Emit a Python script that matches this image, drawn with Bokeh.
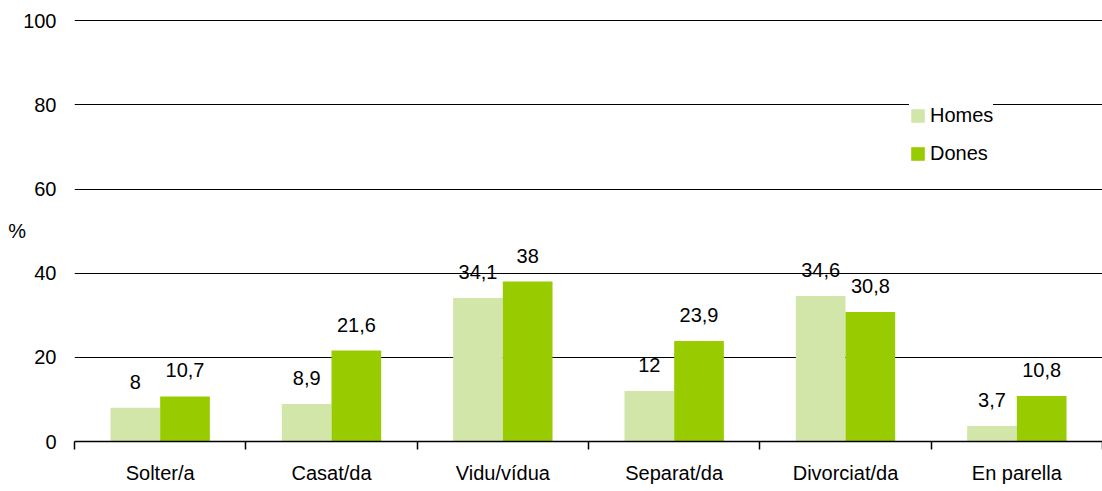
import numpy as np
from bokeh.plotting import figure
from bokeh.models import (ColumnDataSource, Range1d, FixedTicker, Legend, LegendItem,
                          CustomJSTickFormatter)
from bokeh.transform import dodge
from bokeh.core.properties import value
from bokeh.embed import file_html
from bokeh.resources import INLINE

categories = ["Solter/a", "Casat/da", "Vidu/vídua", "Separat/da", "Divorciat/da", "En parella"]
homes = [8, 8.9, 34.1, 12, 34.6, 3.7]
dones = [10.7, 21.6, 38, 23.9, 30.8, 10.8]
y_ticks = [0, 20, 40, 60, 80, 100]

FONT = "Liberation Sans"
FS = "20px"
C_HOMES = "#d3e6a9"
C_DONES = "#99cc00"

def fmt(v):
    return f"{v:g}".replace(".", ",")

x = np.arange(len(categories)) + 0.5
src = ColumnDataSource(dict(
    x=x, homes=homes, dones=dones,
    homes_lbl=[fmt(v) for v in homes],
    dones_lbl=[fmt(v) for v in dones],
))

p = figure(width=1102, height=491, output_backend="svg", toolbar_location=None,
           x_range=Range1d(0, len(categories)), y_range=Range1d(0, 100.3),
           min_border_left=74, min_border_right=0, min_border_top=19, min_border_bottom=50)
p.outline_line_color = None
p.background_fill_color = "white"
p.border_fill_color = "white"

BW = 0.29
OFF = 0.145
r_h = p.vbar(x=dodge("x", -OFF, range=p.x_range), top="homes", width=BW, source=src,
             fill_color=C_HOMES, line_color=None)
r_d = p.vbar(x=dodge("x", OFF, range=p.x_range), top="dones", width=BW, source=src,
             fill_color=C_DONES, line_color=None)

p.text(x=dodge("x", -OFF, range=p.x_range), y="homes", text="homes_lbl", source=src,
       text_font=value(FONT), text_font_size=FS, text_align="center",
       text_baseline="alphabetic", y_offset=-26, text_color="black")
p.text(x=dodge("x", OFF, range=p.x_range), y="dones", text="dones_lbl", source=src,
       text_font=value(FONT), text_font_size=FS, text_align="center",
       text_baseline="alphabetic", y_offset=-26, text_color="black")

# grid
p.xgrid.grid_line_color = None
p.ygrid.ticker = FixedTicker(ticks=y_ticks)
p.ygrid.grid_line_color = "black"
p.ygrid.grid_line_width = 1

# y axis
ya = p.yaxis[0]
ya.ticker = FixedTicker(ticks=y_ticks)
ya.axis_line_color = None
ya.major_tick_line_color = None
ya.minor_tick_line_color = None
ya.major_tick_out = 0
ya.major_label_standoff = 18
ya.major_label_text_font = FONT
ya.major_label_text_font_size = FS
ya.major_label_text_color = "black"
ya.axis_label = "%"
ya.axis_label_text_font = FONT
ya.axis_label_text_font_size = FS
ya.axis_label_text_font_style = "normal"
ya.axis_label_text_color = "black"
ya.axis_label_standoff = -6
try:
    ya.axis_label_orientation = "horizontal"
except Exception:
    pass

# x axis: labels at centers, tick marks at boundaries
xa = p.xaxis[0]
xa.ticker = FixedTicker(ticks=list(x), minor_ticks=list(range(len(categories) + 1)))
xa.formatter = CustomJSTickFormatter(args=dict(cats=categories),
                                     code="return cats[Math.floor(tick)];")
xa.axis_line_color = "black"
xa.axis_line_width = 1.5
xa.major_tick_line_color = None
xa.major_tick_out = 8
xa.major_tick_in = 0
xa.minor_tick_line_color = "black"
xa.minor_tick_line_width = 1.5
xa.minor_tick_out = 8
xa.minor_tick_in = 0
xa.major_label_standoff = 12
xa.major_label_text_font = FONT
xa.major_label_text_font_size = FS
xa.major_label_text_color = "black"

legend = Legend(items=[LegendItem(label="Homes", renderers=[r_h]),
                       LegendItem(label="Dones", renderers=[r_d])],
                location=(835, 276), orientation="vertical",
                glyph_width=17, glyph_height=17, label_standoff=4, spacing=15,
                padding=10, margin=0, border_line_color=None,
                background_fill_color="white", background_fill_alpha=1,
                label_text_font=FONT, label_text_font_size=FS, label_height=17,
                label_text_color="black")
p.add_layout(legend, "center")

open("out.html", "w").write(file_html(p, INLINE))
